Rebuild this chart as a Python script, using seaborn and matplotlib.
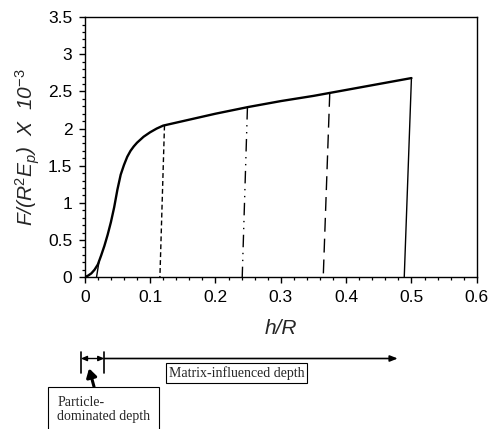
import numpy as np
import pandas as pd
import matplotlib
matplotlib.use("Agg")
import matplotlib.pyplot as plt
import seaborn as sns
from matplotlib.ticker import MultipleLocator, FuncFormatter

# loading curve (h/R vs normalised force x 1e-3)
load_h = [0, 0.005, 0.01, 0.015, 0.02, 0.025, 0.03, 0.035, 0.04, 0.045,
          0.05, 0.055, 0.06, 0.065, 0.07, 0.075, 0.08, 0.085, 0.09, 0.10,
          0.11, 0.12, 0.15, 0.20, 0.25, 0.30, 0.35, 0.40, 0.45, 0.50]
load_f = [0, 0.02, 0.05, 0.10, 0.17, 0.29, 0.42, 0.57, 0.74, 0.94,
          1.18, 1.38, 1.51, 1.62, 1.70, 1.76, 1.81, 1.85, 1.89, 1.95,
          2.00, 2.04, 2.10, 2.20, 2.29, 2.37, 2.44, 2.52, 2.60, 2.68]

# unloading branches: start on the loading curve, end at zero force
unload_top_h = [0.022, 0.122, 0.249, 0.375, 0.500]
unload_top_f = [0.22, 2.04, 2.29, 2.48, 2.68]
unload_end_h = [0.018, 0.115, 0.241, 0.365, 0.489]
unload_styles = ["-", (0, (3.5, 2.2)), (0, (9, 4, 1, 4, 1, 4)), (0, (10, 5)), "-"]

sns.set_style("ticks")
plt.rcParams["font.family"] = ["Liberation Sans", "DejaVu Sans"]
plt.rcParams["mathtext.fontset"] = "custom"
plt.rcParams["mathtext.it"] = "Liberation Sans:italic"
plt.rcParams["mathtext.rm"] = "Liberation Sans"
plt.rcParams["mathtext.default"] = "it"

fig = plt.figure(figsize=(4.9, 4.29), dpi=100)
ax = fig.add_axes([0.173, 0.354, 0.800, 0.606])

df = pd.DataFrame(dict(h=load_h, f=load_f))
sns.lineplot(data=df, x="h", y="f", color="k", lw=1.7, ax=ax, sort=False)

for th, tf, eh, ls in zip(unload_top_h, unload_top_f, unload_end_h, unload_styles):
    sns.lineplot(x=[th, eh], y=[tf, 0], color="k", lw=1.0, linestyle=ls,
                 ax=ax, sort=False)

ax.set_xlim(0, 0.6)
ax.set_ylim(0, 3.5)
ax.xaxis.set_major_locator(MultipleLocator(0.1))
ax.xaxis.set_minor_locator(MultipleLocator(0.02))
ax.yaxis.set_major_locator(MultipleLocator(0.5))
ax.yaxis.set_minor_locator(MultipleLocator(0.1))
fmt = FuncFormatter(lambda v, p: f"{v:g}")
ax.xaxis.set_major_formatter(fmt)
ax.yaxis.set_major_formatter(fmt)
ax.tick_params(which="major", direction="out", length=4, width=1.0,
               labelsize=12.5, color="k", labelcolor="k", pad=5)
ax.tick_params(which="minor", direction="out", length=2.5, width=0.9, color="k")
for s in ax.spines.values():
    s.set_color("k")
    s.set_linewidth(1.0)

ax.set_xlabel("h/R", fontsize=15, style="italic", labelpad=10)
ax.set_ylabel(r"F/(R$^{2}$E$_{p}$)  X  10$^{-3}$", fontsize=15, style="italic",
              labelpad=4)

# depth annotations below the axes (x in data, y in axes fraction)
tr = ax.get_xaxis_transform()
for xb in [-0.006, 0.030]:
    ax.plot([xb, xb], [-0.287, -0.370], color="k", lw=1.2, transform=tr,
            clip_on=False)
ax.annotate("", xy=(-0.006, -0.313), xytext=(0.030, -0.313), xycoords=tr,
            textcoords=tr, annotation_clip=False,
            arrowprops=dict(arrowstyle="<|-|>,head_length=0.35,head_width=0.15",
                            color="k", lw=1.0, shrinkA=0, shrinkB=0))
ax.annotate("", xy=(0.479, -0.313), xytext=(0.030, -0.313), xycoords=tr,
            textcoords=tr, annotation_clip=False,
            arrowprops=dict(arrowstyle="-|>,head_length=0.45,head_width=0.18",
                            color="k", lw=1.2, shrinkA=0, shrinkB=0))
ax.annotate("", xy=(0.0066, -0.351), xytext=(0.0142, -0.422), xycoords=tr,
            textcoords=tr, annotation_clip=False,
            arrowprops=dict(arrowstyle="-|>,head_length=0.5,head_width=0.3",
                            color="k", lw=2.2, shrinkA=0, shrinkB=0))

ax.text(0.232, -0.369, "Matrix-influenced depth", transform=tr, ha="center",
        va="center", fontsize=10, family="Liberation Serif",
        bbox=dict(boxstyle="square,pad=0.2", fc="white", ec="k", lw=0.8))
ax.text(-0.042, -0.458, "Particle-\ndominated depth", transform=tr, ha="left",
        va="top", fontsize=10, family="Liberation Serif", linespacing=1.1,
        bbox=dict(boxstyle="square,pad=0.65", fc="white", ec="k", lw=0.8))

fig.savefig("out.png", dpi=100)
